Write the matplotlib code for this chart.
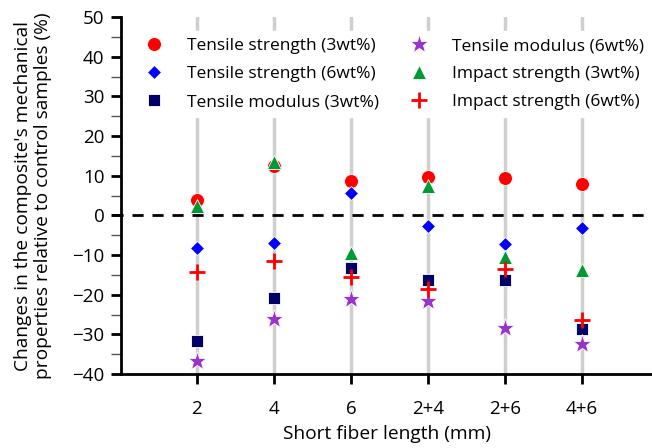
import matplotlib.pyplot as plt

plt.rcParams['font.family'] = ['Open Sans', 'DejaVu Sans']

# fiber length groups
lengths = ['2', '4', '6', '2+4', '2+6', '4+6']

# changes relative to control (%)
ts_3wt = [3.8, 12.4, 8.7, 9.6, 9.4, 7.8]
ts_6wt = [-8.2, -7.0, 5.6, -2.6, -7.1, -3.2]
tm_3wt = [-31.6, -20.8, -13.2, -16.3, -16.2, -28.7]
tm_6wt = [-36.8, -26.0, -21.2, -21.6, -28.4, -32.4]
is_3wt = [2.4, 13.4, -9.6, 7.4, -10.4, -13.8]
is_6wt = [-14.2, -11.4, -15.6, -18.5, -13.4, -26.4]

x = list(range(len(lengths)))

fig, ax = plt.subplots(figsize=(6.52, 4.48), dpi=100)
fig.subplots_adjust(left=0.186, right=1.0, bottom=0.165, top=0.962)

# grey vertical guides
for xi in x:
    ax.axvline(xi, color='#cfcfcf', lw=2.5, zorder=0)

ax.axhline(0, color='black', lw=2, ls=(0, (4, 3.2)), zorder=1,
           xmin=-0.017, clip_on=False)

ax.plot(x, ts_3wt, 'o', color='#ff0000', ms=10, mec='white', mew=0.6,
        label='Tensile strength (3wt%)', zorder=3)
ax.plot(x, ts_6wt, 'D', color='#0000ff', ms=7.5, mec='white', mew=0.6,
        label='Tensile strength (6wt%)', zorder=3)
ax.plot(x, tm_3wt, 's', color='#000066', ms=8, mec='white', mew=0.6,
        label='Tensile modulus (3wt%)', zorder=3)
ax.plot(x, tm_6wt, '*', color='#9933cc', ms=14, mec='white', mew=0.6,
        label='Tensile modulus (6wt%)', zorder=3)
ax.plot(x, is_3wt, '^', color='#009933', ms=10, mec='white', mew=0.6,
        label='Impact strength (3wt%)', zorder=3)
ax.plot(x, is_6wt, '+', color='#ff0000', ms=11, mew=2,
        label='Impact strength (6wt%)', zorder=3)

ax.set_xlim(-0.98, 5.91)
ax.set_ylim(-40, 50)
ax.set_xticks(x)
ax.set_xticklabels(lengths)
ax.set_yticks(range(-40, 51, 10))
ax.set_yticks(range(-35, 50, 10), minor=True)

ax.spines['top'].set_visible(False)
ax.spines['right'].set_visible(False)
ax.spines['left'].set_linewidth(2)
ax.spines['bottom'].set_linewidth(2)
ax.tick_params(axis='both', which='major', direction='out', length=7,
               width=2, labelsize=13.5, pad=5)
ax.tick_params(axis='x', which='major', pad=12)
ax.tick_params(axis='y', which='minor', direction='out', length=7,
               width=1, color='#555555')

ax.set_xlabel('Short fiber length (mm)', fontsize=13.8, labelpad=5)
ax.set_ylabel("Changes in the composite's mechanical\n"
              "properties relative to control samples (%)",
              fontsize=13.8, labelpad=15, linespacing=1.1)

leg = ax.legend(ncol=2, loc='upper left', bbox_to_anchor=(0.0, 0.985),
                fontsize=12.5, frameon=True, framealpha=1, edgecolor='white',
                handletextpad=0.9, columnspacing=1.3, labelspacing=0.68,
                borderpad=0.4)
leg.set_zorder(5)

plt.savefig('out.png', dpi=100)
